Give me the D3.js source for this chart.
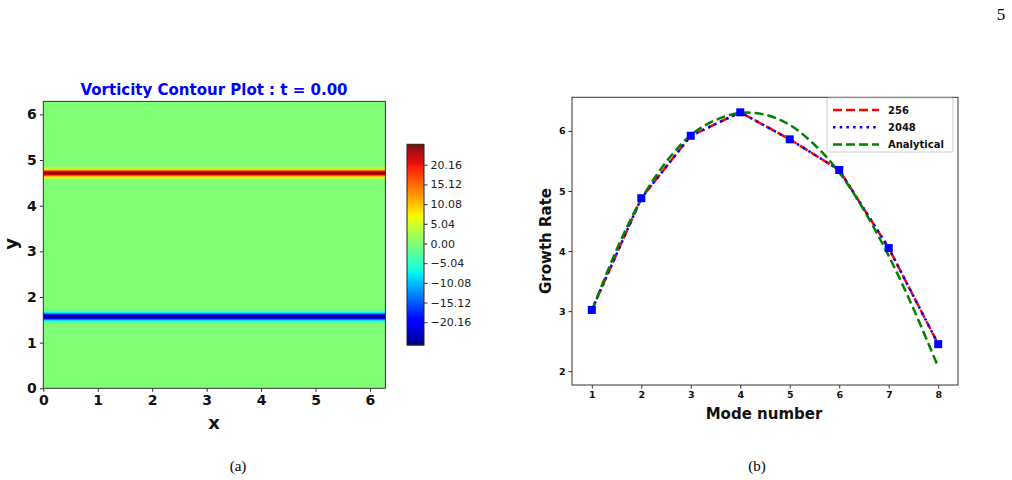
<!DOCTYPE html>
<html>
<head>
<meta charset="utf-8">
<script src="https://cdn.jsdelivr.net/npm/d3@7"></script>
<style>
  body { margin: 0; background: #fff; }
  text { font-family: "DejaVu Sans", sans-serif; }
  .bold text, text.bold { font-weight: bold; }
  .serif { font-family: "Liberation Serif", "Times New Roman", serif; }
</style>
</head>
<body>
<svg id="chart" width="1012" height="480"></svg>
<script>
// ---- panel (a): vorticity field, two shear layers ----
const bandCenters = [4.712, 1.571];
// distance from the layer centre (y units) and vorticity
const bandOffsets = [0, 0.02, 0.04, 0.06, 0.08, 0.10, 0.12, 0.14, 0.16, 0.18, 0.20];
const redBand  = [25.4, 23.8, 19.6, 14.2, 9.0, 5.0, 2.45, 1.06, 0.40, 0.13, 0];
const blueBand = [-26.0, -24.4, -20.0, -14.5, -9.2, -5.1, -2.5, -1.1, -0.4, -0.13, 0];
const fieldXTicks = [0, 1, 2, 3, 4, 5, 6];
const fieldYTicks = [0, 1, 2, 3, 4, 5, 6];
const cbarTicks = [-20.16, -15.12, -10.08, -5.04, 0, 5.04, 10.08, 15.12, 20.16];
const vMin = -26.0, vMax = 25.4;

// ---- panel (b): growth rate per mode ----
const modes = [1, 2, 3, 4, 5, 6, 7, 8];
const growth256  = [3.02, 4.88, 5.92, 6.31, 5.86, 5.35, 4.05, 2.45];
const growth2048 = [3.02, 4.88, 5.92, 6.31, 5.86, 5.35, 4.05, 2.45];
const analyticK = [1, 1.5, 2, 2.5, 3, 3.5, 4, 4.5, 5, 5.5, 6, 6.5, 7, 7.5, 8];
const analyticG = [3.0, 4.02, 4.86, 5.48, 5.93, 6.18, 6.30, 6.27, 6.10, 5.77, 5.31, 4.68, 3.92, 3.04, 2.07];
const growthYTicks = [2, 3, 4, 5, 6];

const svg = d3.select("#chart");

// matplotlib "jet"
const jetR = d3.scaleLinear().domain([0, 0.35, 0.66, 0.89, 1]).range([0, 0, 1, 1, 0.5]).clamp(true);
const jetG = d3.scaleLinear().domain([0, 0.125, 0.375, 0.64, 0.91, 1]).range([0, 0, 1, 1, 0, 0]).clamp(true);
const jetB = d3.scaleLinear().domain([0, 0.11, 0.34, 0.65, 1]).range([0.5, 1, 1, 0, 0]).clamp(true);
const norm = d3.scaleLinear().domain([vMin, vMax]).range([0, 1]).clamp(true);
const jet = v => {
    const t = norm(v);
    return d3.rgb(jetR(t) * 255, jetG(t) * 255, jetB(t) * 255).toString();
};
const intFmt = d3.format("d");

/////// PANEL A ///////
const ax = d3.scaleLinear().domain([0, 2 * Math.PI]).range([43.3, 385.4]);
const ay = d3.scaleLinear().domain([0, 2 * Math.PI]).range([388.3, 101.4]);

const ga = svg.append("g");
ga.append("rect")
    .attr("x", ax(0)).attr("y", ay(2 * Math.PI))
    .attr("width", ax(2 * Math.PI) - ax(0)).attr("height", ay(0) - ay(2 * Math.PI))
    .attr("fill", jet(0));

// paint each pixel row of the two layers
[redBand, blueBand].forEach((band, i) => {
    const prof = d3.scaleLinear().domain(bandOffsets).range(band).clamp(true);
    const c = ay(bandCenters[i]);
    for (let py = Math.floor(c - 14); py < c + 14; py++) {
        const d = Math.abs(ay.invert(py + 0.5) - bandCenters[i]);
        ga.append("rect")
            .attr("x", ax(0)).attr("y", py)
            .attr("width", ax(2 * Math.PI) - ax(0)).attr("height", 1.02)
            .attr("fill", jet(prof(d)));
    }
});

ga.append("rect")
    .attr("x", ax(0)).attr("y", ay(2 * Math.PI))
    .attr("width", ax(2 * Math.PI) - ax(0)).attr("height", ay(0) - ay(2 * Math.PI))
    .attr("fill", "none").attr("stroke", "#333").attr("stroke-width", 1);

const axA = ga.append("g").attr("class", "bold")
    .attr("transform", `translate(0,${ay(0)})`)
    .call(d3.axisBottom(ax).tickValues(fieldXTicks).tickFormat(intFmt)
        .tickSize(3.5).tickSizeOuter(0).tickPadding(3));
const ayA = ga.append("g").attr("class", "bold")
    .attr("transform", `translate(${ax(0)},0)`)
    .call(d3.axisLeft(ay).tickValues(fieldYTicks).tickFormat(intFmt)
        .tickSize(3.5).tickSizeOuter(0).tickPadding(3));
[axA, ayA].forEach(g => {
    g.select(".domain").remove();
    g.selectAll("text").attr("font-size", 14).attr("fill", "#111");
    g.selectAll("line").attr("stroke", "#333");
});

ga.append("text").attr("class", "bold")
    .attr("x", 214).attr("y", 95).attr("text-anchor", "middle")
    .attr("font-size", 15).attr("fill", "#0000ff")
    .text("Vorticity Contour Plot : t = 0.00");
ga.append("text").attr("class", "bold")
    .attr("x", 214).attr("y", 429).attr("text-anchor", "middle")
    .attr("font-size", 18).attr("fill", "#111").text("x");
ga.append("text").attr("class", "bold")
    .attr("transform", "translate(17,244) rotate(-90)").attr("text-anchor", "middle")
    .attr("font-size", 18).attr("fill", "#111").text("y");

// colour bar
const cy = d3.scaleLinear().domain([vMin, vMax]).range([345, 144.3]);
const cbX = 407, cbW = 17;
const nSteps = 200;
const cbar = svg.append("g");
d3.range(nSteps).forEach(i => {
    const v0 = vMin + (vMax - vMin) * i / nSteps;
    const v1 = vMin + (vMax - vMin) * (i + 1) / nSteps;
    cbar.append("rect")
        .attr("x", cbX).attr("y", cy(v1))
        .attr("width", cbW).attr("height", cy(v0) - cy(v1) + 0.5)
        .attr("fill", jet((v0 + v1) / 2));
});
cbar.append("rect")
    .attr("x", cbX).attr("y", cy(vMax)).attr("width", cbW).attr("height", cy(vMin) - cy(vMax))
    .attr("fill", "none").attr("stroke", "#222").attr("stroke-width", 1);
const cAxis = cbar.append("g")
    .attr("transform", `translate(${cbX + cbW},0)`)
    .call(d3.axisRight(cy).tickValues(cbarTicks).tickSize(3.5).tickSizeOuter(0).tickPadding(3)
        .tickFormat(d => d3.format(".2f")(d).replace("-", "\u2212")));
cAxis.select(".domain").remove();
cAxis.selectAll("text").attr("font-size", 11).attr("fill", "#222");
cAxis.selectAll("line").attr("stroke", "#333");

/////// PANEL B ///////
const bx = d3.scaleLinear().domain([0.6, 8.4]).range([572, 958]);
const by = d3.scaleLinear().domain([1.77, 6.56]).range([385, 97.3]);
const gb = svg.append("g");

gb.append("rect")
    .attr("x", bx.range()[0]).attr("y", by.range()[1])
    .attr("width", bx.range()[1] - bx.range()[0]).attr("height", by.range()[0] - by.range()[1])
    .attr("fill", "none").attr("stroke", "#333").attr("stroke-width", 1);

const axB = gb.append("g").attr("class", "bold")
    .attr("transform", `translate(0,${by.range()[0]})`)
    .call(d3.axisBottom(bx).tickValues(modes).tickFormat(intFmt)
        .tickSize(3.5).tickSizeOuter(0).tickPadding(3));
const ayB = gb.append("g").attr("class", "bold")
    .attr("transform", `translate(${bx.range()[0]},0)`)
    .call(d3.axisLeft(by).tickValues(growthYTicks).tickFormat(intFmt)
        .tickSize(3.5).tickSizeOuter(0).tickPadding(3));
[axB, ayB].forEach(g => {
    g.select(".domain").remove();
    g.selectAll("text").attr("font-size", 9.5).attr("fill", "#111");
    g.selectAll("line").attr("stroke", "#333");
});

const line = d3.line().x(d => bx(d[0])).y(d => by(d[1]));
const smooth = d3.line().x(d => bx(d[0])).y(d => by(d[1])).curve(d3.curveCatmullRom);

gb.append("path").datum(d3.zip(modes, growth256))
    .attr("d", line).attr("fill", "none")
    .attr("stroke", "#ff0000").attr("stroke-width", 2.5).attr("stroke-dasharray", "9,4");
gb.append("path").datum(d3.zip(modes, growth2048))
    .attr("d", line).attr("fill", "none")
    .attr("stroke", "#0000ff").attr("stroke-width", 2.5).attr("stroke-dasharray", "2.5,4.2");
gb.append("path").datum(d3.zip(analyticK, analyticG))
    .attr("d", smooth).attr("fill", "none")
    .attr("stroke", "#008000").attr("stroke-width", 2.5).attr("stroke-dasharray", "9,4");
gb.selectAll(".sq").data(d3.zip(modes, growth2048)).enter()
    .append("rect").attr("class", "sq")
    .attr("x", d => bx(d[0]) - 4).attr("y", d => by(d[1]) - 4)
    .attr("width", 8).attr("height", 8).attr("fill", "#0000ff");

gb.append("text").attr("class", "bold")
    .attr("x", 764).attr("y", 419).attr("text-anchor", "middle")
    .attr("font-size", 15).attr("fill", "#111").text("Mode number");
gb.append("text").attr("class", "bold")
    .attr("transform", "translate(551,241) rotate(-90)").attr("text-anchor", "middle")
    .attr("font-size", 15).attr("fill", "#111").text("Growth Rate");

// legend
const legendItems = [
    { label: "256", color: "#ff0000", dash: "9,4" },
    { label: "2048", color: "#0000ff", dash: "2.5,4.2" },
    { label: "Analytical", color: "#008000", dash: "9,4" }
];
const lg = gb.append("g").attr("transform", "translate(827,98)");
lg.append("rect").attr("width", 126).attr("height", 54).attr("rx", 2)
    .attr("fill", "#fff").attr("fill-opacity", 0.8).attr("stroke", "#ccc");
legendItems.forEach((d, i) => {
    const yy = 12 + i * 17.2;
    lg.append("line").attr("x1", 6).attr("x2", 52).attr("y1", yy).attr("y2", yy)
        .attr("stroke", d.color).attr("stroke-width", 2.5).attr("stroke-dasharray", d.dash);
    lg.append("text").attr("class", "bold").attr("x", 61).attr("y", yy + 3.6)
        .attr("font-size", 10).attr("fill", "#111").text(d.label);
});

// captions and page number
svg.append("text").attr("class", "serif").attr("x", 238).attr("y", 471)
    .attr("text-anchor", "middle").attr("font-size", 15).text("(a)");
svg.append("text").attr("class", "serif").attr("x", 757).attr("y", 471)
    .attr("text-anchor", "middle").attr("font-size", 15).text("(b)");
svg.append("text").attr("class", "serif").attr("x", 1001).attr("y", 20)
    .attr("text-anchor", "middle").attr("font-size", 17).text("5");
</script>
</body>
</html>
